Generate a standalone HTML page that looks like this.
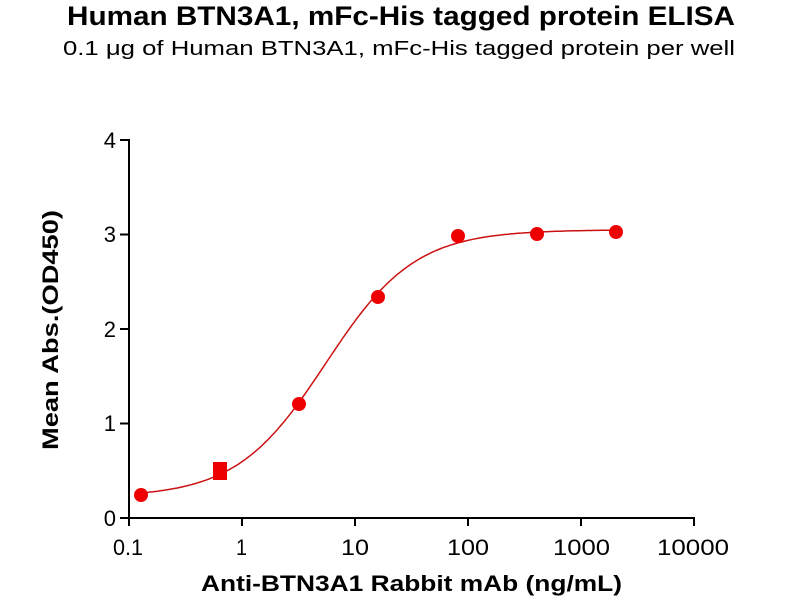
<!DOCTYPE html>
<html><head><meta charset="utf-8"><style>
body{margin:0;background:#fff;width:800px;height:600px;overflow:hidden}
svg text{font-family:"Liberation Sans",Arial,sans-serif}
</style></head><body>
<svg id="s" width="800" height="600" viewBox="0 0 800 600" xmlns="http://www.w3.org/2000/svg">
<text x="67" y="25" font-size="27" font-weight="bold" textLength="668" lengthAdjust="spacingAndGlyphs">Human BTN3A1, mFc-His tagged protein ELISA</text>
<text x="63" y="55" font-size="20" textLength="672" lengthAdjust="spacingAndGlyphs">0.1 μg of Human BTN3A1, mFc-His tagged protein per well</text>
<g stroke="#000" stroke-width="2" fill="none">
<line x1="129" y1="139" x2="129" y2="518"/>
<line x1="128" y1="518" x2="695" y2="518"/>
<line x1="120" y1="140" x2="129" y2="140"/>
<line x1="120" y1="234.5" x2="129" y2="234.5"/>
<line x1="120" y1="329" x2="129" y2="329"/>
<line x1="120" y1="423.5" x2="129" y2="423.5"/>
<line x1="120" y1="518" x2="129" y2="518"/>
<line x1="129" y1="518" x2="129" y2="526"/>
<line x1="242" y1="518" x2="242" y2="526"/>
<line x1="355" y1="518" x2="355" y2="526"/>
<line x1="468" y1="518" x2="468" y2="526"/>
<line x1="581" y1="518" x2="581" y2="526"/>
<line x1="694" y1="518" x2="694" y2="526"/>
</g>
<g font-size="22" text-anchor="end">
<text x="116" y="148">4</text><text x="116" y="242">3</text><text x="116" y="337">2</text><text x="116" y="431">1</text><text x="116" y="526">0</text>
</g>
<g font-size="22">
<text x="113" y="555" textLength="30" lengthAdjust="spacingAndGlyphs">0.1</text>
<text x="236" y="555" textLength="11" lengthAdjust="spacingAndGlyphs">1</text>
<text x="341" y="555" textLength="28" lengthAdjust="spacingAndGlyphs">10</text>
<text x="447" y="555" textLength="42" lengthAdjust="spacingAndGlyphs">100</text>
<text x="553" y="555" textLength="57" lengthAdjust="spacingAndGlyphs">1000</text>
<text x="657" y="555" textLength="72" lengthAdjust="spacingAndGlyphs">10000</text>
</g>
<text x="201" y="591" font-size="22" font-weight="bold" textLength="421" lengthAdjust="spacingAndGlyphs">Anti-BTN3A1 Rabbit mAb (ng/mL)</text>
<text transform="translate(58,330) rotate(-90)" text-anchor="middle" font-size="22" font-weight="bold" textLength="240" lengthAdjust="spacingAndGlyphs">Mean Abs.(OD450)</text>
<path id="c" fill="none" stroke="#cc1111" stroke-width="1.5"/>
<g fill="#ee0000">
<circle cx="141" cy="495" r="7"/>
<rect x="213" y="462" width="14" height="18"/>
<circle cx="299" cy="404" r="7"/>
<circle cx="378" cy="297" r="7"/>
<circle cx="458" cy="236" r="7"/>
<circle cx="537" cy="234" r="7"/>
<circle cx="616" cy="232" r="7"/>
</g>
</svg>
<script>
var d="";for(var i=0;i<=200;i++){var lx=Math.log10(0.128)+i*(Math.log10(2000)-Math.log10(0.128))/200;var x=Math.pow(10,lx);var f=Math.pow(x/5.5,1.1);var y=0.22+2.83*f/(1+f);var px=129+113*(lx+1),py=518-94.5*y;d+=(i?"L":"M")+px.toFixed(1)+","+py.toFixed(1);}
document.getElementById("c").setAttribute("d",d);
</script>
</body></html>
